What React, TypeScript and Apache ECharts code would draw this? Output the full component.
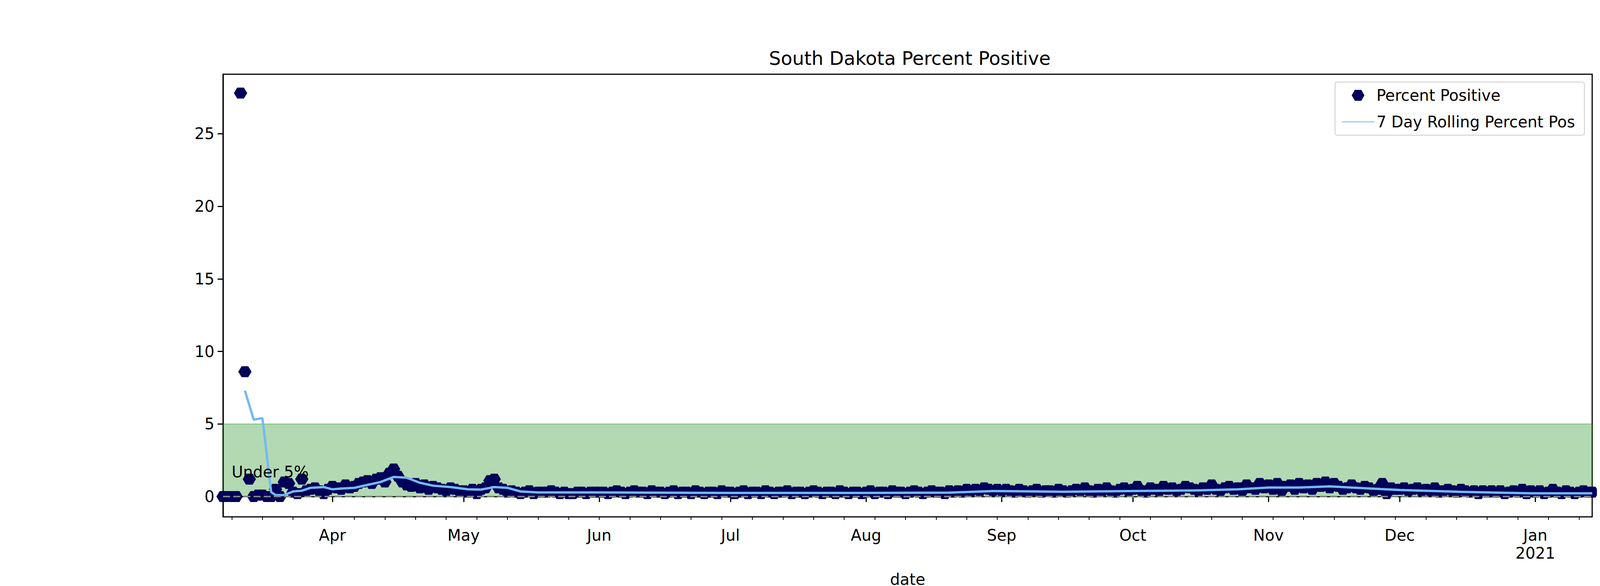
import React, { useEffect, useRef } from "react";
import * as echarts from "echarts";

// Percent positive, per day, by month (2020-03-07 .. 2021-01-14)
const ppMar = [0, 0, 0, 0, 27.8, 8.6, 1.2, 0, 0.1, 0.1, 0, 0, 0.5, 0, 1.0, 0.9, 0.3, 0.2, 1.2, 0.4, 0.5, 0.6, 0.4, 0.2, 0.5];
const ppApr = [0.7, 0.6, 0.5, 0.8, 0.6, 0.7, 0.9, 1.0, 1.1, 0.9, 1.2, 1.3, 1.0, 1.6, 1.9, 1.4, 1.0, 0.8, 0.7, 0.9, 0.6, 0.8, 0.5, 0.7, 0.6, 0.5, 0.4, 0.6, 0.5, 0.4];
const ppMay = [0.4, 0.3, 0.5, 0.2, 0.5, 0.6, 1.1, 1.2, 0.6, 0.5, 0.3, 0.4, 0.3, 0.2, 0.3, 0.4, 0.2, 0.3, 0.3, 0.3, 0.4, 0.3, 0.2, 0.3, 0.2, 0.2, 0.3, 0.3, 0.2, 0.3, 0.3];
const ppJun = [0.3, 0.3, 0.2, 0.3, 0.4, 0.3, 0.2, 0.3, 0.4, 0.3, 0.3, 0.2, 0.4, 0.3, 0.3, 0.2, 0.3, 0.4, 0.2, 0.3, 0.3, 0.2, 0.4, 0.3, 0.2, 0.3, 0.3, 0.2, 0.4, 0.3];
const ppJul = [0.3, 0.2, 0.3, 0.4, 0.2, 0.3, 0.3, 0.2, 0.4, 0.3, 0.2, 0.3, 0.3, 0.4, 0.2, 0.3, 0.3, 0.2, 0.3, 0.4, 0.3, 0.2, 0.3, 0.3, 0.2, 0.4, 0.3, 0.2, 0.3, 0.3, 0.2];
const ppAug = [0.3, 0.4, 0.2, 0.3, 0.3, 0.2, 0.4, 0.3, 0.3, 0.2, 0.3, 0.4, 0.3, 0.2, 0.3, 0.4, 0.3, 0.3, 0.2, 0.4, 0.3, 0.4, 0.3, 0.5, 0.4, 0.5, 0.4, 0.6, 0.5, 0.4, 0.5];
const ppSep = [0.4, 0.5, 0.4, 0.3, 0.5, 0.4, 0.3, 0.4, 0.5, 0.3, 0.4, 0.4, 0.3, 0.5, 0.4, 0.3, 0.4, 0.5, 0.4, 0.6, 0.4, 0.3, 0.5, 0.4, 0.6, 0.4, 0.3, 0.5, 0.6, 0.4];
const ppOct = [0.5, 0.7, 0.4, 0.3, 0.6, 0.5, 0.4, 0.7, 0.5, 0.6, 0.4, 0.5, 0.7, 0.6, 0.5, 0.4, 0.6, 0.5, 0.8, 0.5, 0.4, 0.6, 0.7, 0.5, 0.6, 0.4, 0.8, 0.6, 0.5, 0.9, 0.6];
const ppNov = [0.8, 0.5, 0.9, 0.4, 0.7, 0.8, 0.5, 0.9, 0.6, 0.8, 0.5, 0.9, 0.7, 1.0, 0.6, 0.9, 0.7, 0.5, 0.6, 0.8, 0.6, 0.5, 0.7, 0.6, 0.4, 0.5, 0.9, 0.2, 0.6, 0.5];
const ppDec = [0.5, 0.6, 0.4, 0.5, 0.6, 0.4, 0.5, 0.4, 0.6, 0.3, 0.4, 0.5, 0.4, 0.3, 0.5, 0.4, 0.3, 0.4, 0.2, 0.4, 0.3, 0.4, 0.3, 0.4, 0.2, 0.3, 0.4, 0.3, 0.5, 0.2, 0.4];
const ppJan = [0.3, 0.4, 0.2, 0.3, 0.5, 0.3, 0.2, 0.4, 0.3, 0.2, 0.3, 0.4, 0.3, 0.3];

const ppMonths: [number, number, number, number[]][] = [
  [2020, 3, 7, ppMar], [2020, 4, 1, ppApr], [2020, 5, 1, ppMay], [2020, 6, 1, ppJun],
  [2020, 7, 1, ppJul], [2020, 8, 1, ppAug], [2020, 9, 1, ppSep], [2020, 10, 1, ppOct],
  [2020, 11, 1, ppNov], [2020, 12, 1, ppDec], [2021, 1, 1, ppJan],
];

// 7 day rolling percent positive
const rollDates = ["2020-03-12", "2020-03-14", "2020-03-16", "2020-03-18", "2020-03-19", "2020-03-21", "2020-03-23", "2020-03-25", "2020-03-27", "2020-03-30", "2020-04-01", "2020-04-03", "2020-04-06", "2020-04-09", "2020-04-12", "2020-04-15", "2020-04-18", "2020-04-21", "2020-04-24", "2020-04-28", "2020-05-02", "2020-05-05", "2020-05-08", "2020-05-11", "2020-05-14", "2020-05-18", "2020-06-01", "2020-07-01", "2020-08-01", "2020-08-20", "2020-08-30", "2020-09-05", "2020-09-15", "2020-09-30", "2020-10-15", "2020-10-25", "2020-11-01", "2020-11-08", "2020-11-15", "2020-11-20", "2020-12-01", "2020-12-15", "2020-12-31", "2021-01-14"];
const rollValues = [7.3, 5.3, 5.4, 0.3, 0.1, 0.1, 0.35, 0.4, 0.6, 0.65, 0.5, 0.55, 0.6, 0.8, 1.0, 1.35, 1.3, 0.95, 0.75, 0.65, 0.5, 0.48, 0.65, 0.6, 0.35, 0.28, 0.28, 0.25, 0.25, 0.27, 0.38, 0.36, 0.33, 0.38, 0.42, 0.5, 0.62, 0.62, 0.7, 0.62, 0.45, 0.32, 0.22, 0.22];

const yTicks = [0, 5, 10, 15, 20, 25];
const monthNames = ["Jan", "Feb", "Mar", "Apr", "May", "Jun", "Jul", "Aug", "Sep", "Oct", "Nov", "Dec"];

const HEX = "path://M0,12 L7,0 L21,0 L28,12 L21,24 L7,24 Z";
const pad = (n: number) => (n < 10 ? "0" + n : "" + n);

export default function App() {
  const ref = useRef<HTMLDivElement>(null);
  useEffect(() => {
    const chart = echarts.init(ref.current!, undefined, { renderer: "svg" });
    const cats: string[] = [];
    const ppData: [string, number][] = [];
    ppMonths.forEach(([y, m, d0, arr]) => {
      arr.forEach((v, i) => {
        const s = `${y}-${pad(m)}-${pad(d0 + i)}`;
        cats.push(s);
        ppData.push([s, v]);
      });
    });
    const rollData = rollDates.map((d, i) => [d, rollValues[i]]);
    const dayOf = (s: string) => new Date(s + "T12:00:00Z");
    const isFirst = (_: number, s: string) => dayOf(s).getUTCDate() === 1;
    const isMonday = (_: number, s: string) => dayOf(s).getUTCDay() === 1;
    const font = "DejaVu Sans";
    chart.setOption({
      animation: false,
      textStyle: { fontFamily: font },
      title: {
        text: "South Dakota Percent Positive",
        left: 2316, top: 112, textAlign: "center",
        textStyle: { fontSize: 48, fontWeight: "normal", color: "#000", fontFamily: font },
      },
      legend: {
        orient: "vertical", right: 452, top: 202,
        backgroundColor: "#fff", borderColor: "#ccc", borderWidth: 2, borderRadius: 6,
        padding: [14, 24, 14, 16], itemWidth: 84, itemHeight: 28, itemGap: 28,
        textStyle: { fontSize: 40, color: "#000", fontFamily: font },
        data: [
          { name: "Percent Positive", icon: HEX },
          { name: "7 Day Rolling Percent Pos", itemStyle: { color: "transparent", borderColor: "transparent", borderWidth: 0 } },
        ],
      },
      grid: { left: 563, right: 432, top: 182, bottom: 179, show: true, borderColor: "#000", borderWidth: 3, backgroundColor: "transparent" },
      xAxis: [
        {
          type: "category", data: cats, boundaryGap: false,
          name: "date", nameLocation: "middle", nameGap: 140,
          nameTextStyle: { fontSize: 40, color: "#000", fontFamily: font },
          axisLine: { lineStyle: { color: "#000", width: 3 } },
          axisTick: { interval: isFirst, length: 14, lineStyle: { color: "#000", width: 3 } },
          axisLabel: {
            interval: isFirst, fontSize: 40, color: "#000", margin: 24, fontFamily: font, lineHeight: 46,
            formatter: (s: string) => {
              const d = dayOf(s);
              const m = monthNames[d.getUTCMonth()];
              return d.getUTCMonth() === 0 ? `${m}\n${d.getUTCFullYear()}` : m;
            },
          },
          splitLine: { show: false },
        },
        {
          type: "category", data: cats, boundaryGap: false, position: "bottom",
          axisLine: { show: false },
          axisTick: { interval: isMonday, length: 8, lineStyle: { color: "#000", width: 2 } },
          axisLabel: { show: false },
          splitLine: { show: false },
        },
      ],
      yAxis: {
        type: "value", min: -1.4, max: 29.1,
        axisLine: { show: true, lineStyle: { color: "#000", width: 3 } },
        axisTick: { show: true, customValues: yTicks, length: 14, lineStyle: { color: "#000", width: 3 } },
        axisLabel: { customValues: yTicks, fontSize: 40, color: "#000", margin: 22, fontFamily: font },
        splitLine: { show: false },
      },
      series: [
        {
          name: "Percent Positive", type: "scatter", data: ppData,
          symbol: HEX, symbolSize: [34, 28],
          itemStyle: { color: "#000058", opacity: 1 },
          z: 3,
          markArea: {
            silent: true,
            itemStyle: { color: "rgba(0,128,0,0.3)", borderColor: "rgba(0,128,0,0.3)", borderWidth: 3 },
            data: [[{ yAxis: 0 }, { yAxis: 5 }]],
          },
          markLine: {
            silent: true, symbol: "none", label: { show: false },
            lineStyle: { color: "#808080", type: [18, 8], width: 4 },
            data: [{ yAxis: 0 }],
          },
          markPoint: {
            silent: true, symbol: "circle", symbolSize: 1, itemStyle: { color: "transparent" },
            label: { show: true, formatter: "Under 5%", position: "right", offset: [-6, -30], fontSize: 40, color: "#000", fontFamily: font },
            data: [{ coord: ["2020-03-09", 0.9] }],
          },
        },
        {
          name: "7 Day Rolling Percent Pos", type: "line", data: rollData,
          symbol: "none", lineStyle: { color: "#74b9f7", width: 6 }, itemStyle: { color: "#74b9f7" },
          z: 4,
        },
      ],
    });
    return () => chart.dispose();
  }, []);
  return <div ref={ref} style={{ width: 4500, height: 1500 }} />;
}
